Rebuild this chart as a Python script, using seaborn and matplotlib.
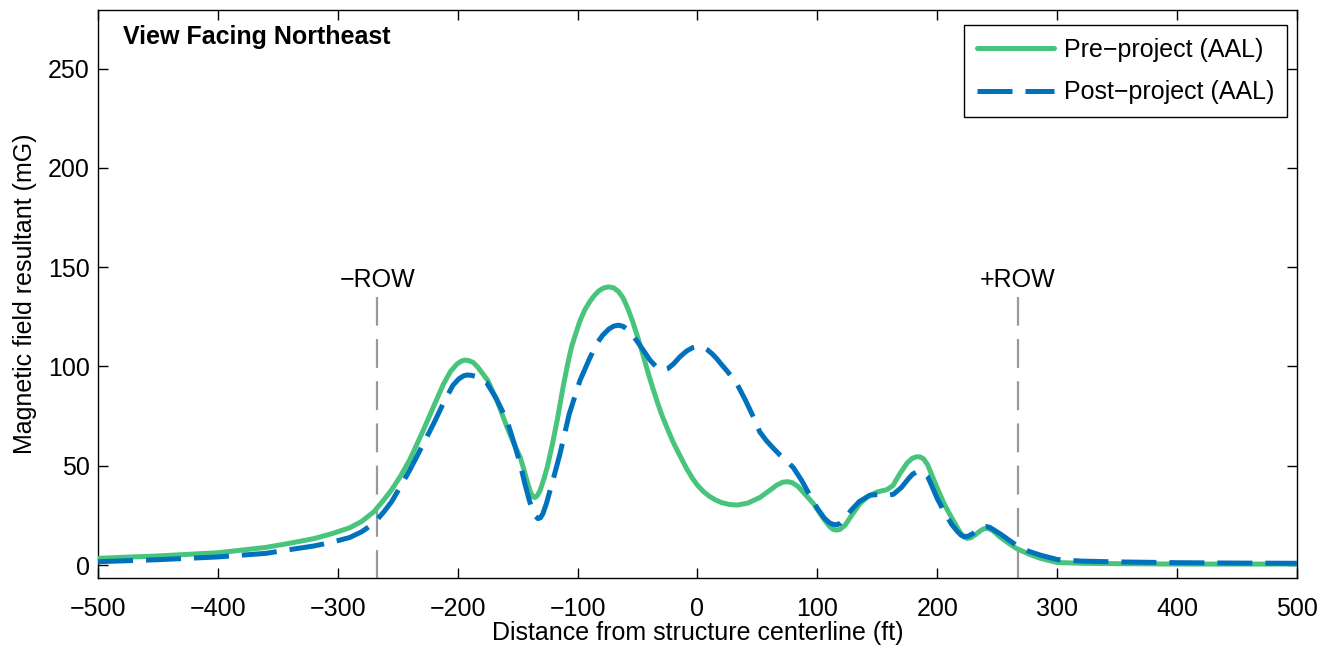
import matplotlib
matplotlib.use("Agg")
import matplotlib.pyplot as plt
import seaborn as sns
import pandas as pd

# Courbe avant projet (verte, trait plein)
pre_x = [-500, -450, -400, -360, -340, -320, -305, -290, -280, -270, -262, -255, -248, -240,
         -229, -220, -212, -206, -201, -197, -194, -191, -187, -183, -175, -167, -159, -153,
         -148, -145, -142, -139.5, -137.5, -135.5, -133.5, -131, -128, -125, -121, -117, -112,
         -108, -105, -101, -98, -94, -90, -86, -82, -78, -74, -70, -66, -62, -58, -54, -50,
         -46, -42, -38, -34, -30, -25, -20, -15, -9, -4, 0, 5, 10, 15, 20, 26, 33, 42, 52, 60,
         66, 71, 75, 79, 84, 90, 96.6, 105, 110, 113, 116, 119, 123, 128, 135.5, 142, 150, 158,
         163, 169, 175, 179, 182.5, 185.5, 188.5, 192, 195, 199.5, 206, 213, 219, 222, 225, 228,
         232, 236, 239, 242, 246, 252, 260, 266, 276, 286, 300, 320, 350, 400, 450, 500]
pre_y = [3.4, 4.6, 6.2, 8.9, 11, 13.3, 15.8, 18.8, 22, 26.8, 32.5, 38, 44.5, 53,
         67.5, 80, 91, 97.5, 101, 102.7, 103.2, 103, 102, 99.5, 93, 82.5, 69.6, 61,
         54.5, 48.5, 42, 37, 34.5, 34, 35, 38, 43.5, 50, 61, 73, 90,
         102, 110, 117.5, 123, 128.5, 132.5, 135.8, 138.2, 139.6, 140.1, 139.6, 137.8, 134.5, 129, 122.5, 115,
         107, 98.5, 90.5, 83, 76, 68.5, 61.5, 55.5, 48.5, 43.5, 40.2, 37, 34.6, 32.8, 31.5, 30.6, 30.2, 31.2, 34, 37.5,
         40.2, 41.7, 42, 41.5, 39.5, 35.5, 31, 23.5, 19.5, 18, 17.6, 18, 20, 24.5, 31, 34.5, 36.8, 38,
         40, 46.2, 51.5, 53.7, 54.5, 54.5, 53.5, 50.5, 46, 39.4, 30.5, 22.7, 16.5, 14.2, 13.4, 13.8,
         15.4, 17.3, 18.3, 18.5, 17.5, 14.3, 10.8, 8.4, 5.6, 3.4, 1.3, 0.9, 0.7, 0.5, 0.5, 0.5]

# Courbe après projet (bleue, tirets)
post_x = [-500, -450, -400, -360, -340, -320, -305, -290, -280, -270, -262, -255, -240, -230,
          -220, -212, -204, -199, -195, -192.5, -189, -185, -180, -176, -168, -159, -153, -148,
          -144, -140, -137.5, -135, -133, -131, -129, -126, -120, -114.7, -107, -98, -90, -84,
          -79, -74, -70, -66, -62, -58, -54, -50.7, -45, -39.6, -35, -31, -28.5, -25, -20,
          -14.6, -9, -4, 0, 4, 8, 12, 16, 20, 25, 32.7, 40, 46.5, 52, 57.7, 63, 68.8, 74.4, 80,
          87, 93.8, 100, 106, 110, 113, 116, 119, 123, 128, 135, 143.9, 150, 157, 163.3, 170,
          176, 179.5, 183, 186, 189, 192, 195, 200, 205, 212, 217, 220, 223, 226, 230, 235, 238,
          241, 244, 247, 253, 260, 266, 276, 286, 300, 320, 350, 400, 450, 500]
post_y = [1.7, 2.7, 4.1, 5.9, 7.8, 9.6, 11.5, 13.9, 16.8, 21, 26.5, 32, 47.8, 59.5,
          71.3, 81.5, 90.5, 93.8, 95.3, 95.7, 95.6, 95, 93.6, 92, 84, 73, 61.5, 51.2,
          41, 32, 27.5, 24.5, 23.4, 23.8, 25.8, 31, 44, 56, 76, 93, 104, 111.6,
          115.8, 118.8, 120.3, 120.8, 120.2, 118.3, 115.6, 113, 108, 103.2, 100.2, 98.5, 98.2, 98.8, 101.3,
          104.9, 107.8, 109.5, 110, 109.8, 108.5, 106.5, 104, 101, 97.5, 91.5, 83, 74.7, 67, 62.5, 59, 55.4, 52.5, 49,
          42.5, 35, 28.5, 23.5, 21.3, 20.5, 20.3, 21, 23.5, 27.5, 32, 35.2, 35.5, 35, 35.6, 39,
          43.5, 45.8, 46.9, 47, 46.3, 44.5, 40.5, 33.5, 27.7, 20.5, 16.8, 15, 14.3, 14.6, 16, 18.3, 19.2,
          19.4, 18.9, 17.8, 15.5, 12.5, 10, 7, 5, 2.8, 2, 1.6, 1.2, 1, 0.9]

row_edges = [-267, 267]
row_labels = ["\u2212ROW", "+ROW"]
series_names = ["Pre\u2212project (AAL)", "Post\u2212project (AAL)"]

green = "#48C47C"
blue = "#0072BD"

sns.set_style("ticks")
plt.rcParams["font.family"] = ["Liberation Sans", "DejaVu Sans"]
plt.rcParams["xtick.direction"] = "in"
plt.rcParams["ytick.direction"] = "in"
plt.rcParams["text.color"] = "black"
plt.rcParams["axes.labelcolor"] = "black"
plt.rcParams["xtick.labelcolor"] = "black"
plt.rcParams["ytick.labelcolor"] = "black"

df_pre = pd.DataFrame({"x": pre_x, "y": pre_y})
df_post = pd.DataFrame({"x": post_x, "y": post_y})

fs = 18

fig = plt.figure(figsize=(13.23, 6.46), dpi=100)
ax = fig.add_axes([0.0741, 0.1053, 0.9062, 0.8792])

# Limites de l'emprise (ROW)
for xr, lab in zip(row_edges, row_labels):
    ax.plot([xr, xr], [-7, 135], color="#999999", lw=1.6,
            linestyle=(0, (13, 6)), zorder=1)
    ax.text(xr, 143.5, lab, ha="center", va="center", fontsize=fs)

sns.lineplot(data=df_pre, x="x", y="y", ax=ax, color=green, lw=3.6,
             label=series_names[0], zorder=3)
sns.lineplot(data=df_post, x="x", y="y", ax=ax, color=blue, lw=3.6,
             linestyle=(0, (7, 2.6)), label=series_names[1], zorder=4)

ax.set_xlim(-500, 500)
ax.set_ylim(-6.5, 279.5)
ax.set_xticks(range(-500, 501, 100))
ax.set_yticks(range(0, 251, 50))
ax.tick_params(axis="both", which="both", top=True, right=True, length=7,
               width=1, labelsize=fs, color="black")
ax.tick_params(axis="x", pad=14)
ax.tick_params(axis="y", pad=6)
for sp in ax.spines.values():
    sp.set_visible(True)
    sp.set_linewidth(1)
    sp.set_color("black")

ax.set_xlabel("Distance from structure centerline (ft)", fontsize=fs, labelpad=0)
ax.set_ylabel("Magnetic field resultant (mG)", fontsize=fs, labelpad=8)

ax.text(0.021, 0.952, "View Facing Northeast", transform=ax.transAxes,
        fontsize=fs, fontweight="bold", ha="left", va="center")

leg = ax.legend(loc="upper right", bbox_to_anchor=(0.9917, 0.9736), borderaxespad=0,
                fontsize=fs, frameon=True, fancybox=False, edgecolor="black",
                framealpha=1, handlelength=3.1, handletextpad=0.4,
                borderpad=0.5, labelspacing=0.75)
leg.get_frame().set_linewidth(1)

fig.savefig("out.png", dpi=100)
